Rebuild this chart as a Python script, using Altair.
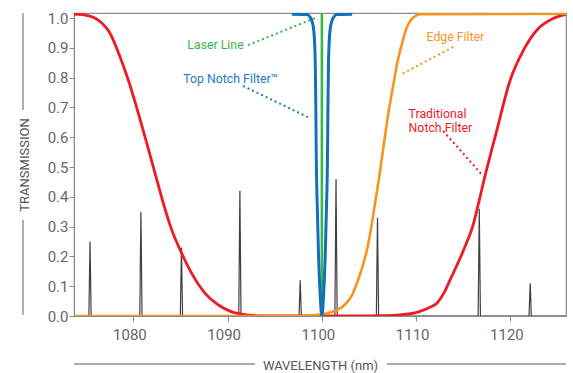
import altair as alt
import pandas as pd

# ---------------- data ----------------
# Traditional notch filter (red)
red_x = [1073.7, 1074.87, 1076.28, 1077.52, 1078.58, 1079.46, 1080.53, 1081.42, 1082.30,
         1083.18, 1084.07, 1085.13, 1086.19, 1087.61, 1089.02, 1090.44, 1092.2, 1093.98,
         1099.0, 1104.06, 1106.0, 1108.3, 1110.25, 1111.3, 1112.2, 1113.0, 1113.6, 1115.03,
         1116.09, 1116.7, 1117.2, 1118.57, 1119.98, 1121.4, 1122.82, 1124.58, 1125.9]
red_y = [1.013, 1.010, 0.993, 0.949, 0.870, 0.792, 0.680, 0.580, 0.479,
         0.378, 0.289, 0.210, 0.143, 0.076, 0.037, 0.014, 0.003, 0.0,
         0.0, 0.0, 0.001, 0.004, 0.014, 0.027, 0.043, 0.08, 0.121, 0.221,
         0.311, 0.389, 0.456, 0.624, 0.792, 0.893, 0.960, 0.999, 1.013]

# Edge filter (orange)
edge_x = [1073.7, 1098.0, 1099.0, 1100.0, 1101.0, 1101.6, 1102.65, 1103.2, 1103.71, 1104.25,
          1104.77, 1105.3, 1105.7, 1106.0, 1106.5, 1107.0, 1107.6, 1108.0, 1108.5, 1109.0,
          1109.4, 1110.0, 1110.5, 1125.9]
edge_y = [0.0, 0.0, 0.002, 0.006, 0.013, 0.02, 0.045, 0.07, 0.11, 0.16,
          0.22, 0.31, 0.39, 0.45, 0.56, 0.67, 0.78, 0.85, 0.915, 0.967,
          0.992, 1.008, 1.013, 1.015]

# Top Notch Filter (blue)
notch_x = [1096.81, 1098.41, 1098.76, 1098.97, 1099.13, 1099.24, 1099.31, 1099.36, 1099.41,
           1099.52, 1099.66, 1099.82, 1100.0,
           1100.18, 1100.34, 1100.48, 1100.59, 1100.64, 1100.69, 1100.76, 1100.87, 1101.03,
           1101.24, 1101.59, 1103.21]
notch_y = [1.013, 1.012, 1.003, 0.987, 0.960, 0.909, 0.826, 0.691, 0.523,
           0.356, 0.188, 0.070, 0.0,
           0.070, 0.188, 0.356, 0.523, 0.691, 0.826, 0.909, 0.960, 0.987,
           1.003, 1.012, 1.013]

# Laser line (green)
laser_x = [1100.0, 1100.0]
laser_y = [0.0, 1.017]

# Spectral lines (dark grey spikes)
peak_x = [1075.4, 1080.8, 1085.1, 1091.3, 1097.7, 1101.5, 1105.9, 1116.7, 1122.1]
peak_h = [0.25, 0.35, 0.23, 0.42, 0.12, 0.46, 0.33, 0.36, 0.11]

# Annotations
label_text = ["Laser Line", "Top Notch Filter™", "Edge Filter", "Traditional\nNotch Filter"]
label_x = [1091.7, 1085.3, 1111.1, 1109.2]
label_y = [0.909, 0.797, 0.937, 0.679]
label_color = ["#39b54a", "#1a7cc1", "#f7941d", "#ed1c24"]
label_align = ["right", "left", "left", "left"]

leader_x1 = [1092.17, 1091.64, 1113.93, 1112.87]
leader_y1 = [0.909, 0.772, 0.903, 0.621]
leader_x2 = [1099.5, 1098.75, 1108.31, 1117.01]
leader_y2 = [1.003, 0.664, 0.809, 0.473]
leader_color = ["#39b54a", "#1a7cc1", "#f7941d", "#ed1c24"]

x_ticks = [1080, 1090, 1100, 1110, 1120]
y_ticks = [0.0, 0.1, 0.2, 0.3, 0.4, 0.5, 0.6, 0.7, 0.8, 0.9, 1.0]

# ---------------- build tables ----------------
spk_x, spk_y = [1073.7], [0.0]
for p, h in zip(peak_x, peak_h):
    spk_x += [p - 0.12, p, p + 0.12]
    spk_y += [0.0, h, 0.0]
spk_x.append(1125.9)
spk_y.append(0.0)

spikes = pd.DataFrame({"x": spk_x, "y": spk_y, "i": range(len(spk_x))})
red = pd.DataFrame({"x": red_x, "y": red_y})
edge = pd.DataFrame({"x": edge_x, "y": edge_y})
notch = pd.DataFrame({"x": notch_x, "y": notch_y})
laser = pd.DataFrame({"x": laser_x, "y": laser_y})
labels = pd.DataFrame({"t": label_text, "x": label_x, "y": label_y,
                       "c": label_color, "a": label_align})
leaders = pd.DataFrame({"x": leader_x1, "y": leader_y1, "x2": leader_x2,
                        "y2": leader_y2, "c": leader_color})
dummy = pd.DataFrame({"d": [0]})

FONT = "Roboto"
AX = "#8c8c8c"

xs = alt.Scale(domain=[1073.7, 1125.9], nice=False, zero=False)
ys = alt.Scale(domain=[0, 1.017], nice=False, zero=False)

x_axis = alt.Axis(values=x_ticks, format="d", title="WAVELENGTH (nm)", grid=False,
                  tickSize=5, labelPadding=6, labelFontSize=15, labelOverlap=False,
                  labelOffset=-4,
                  labelColor="#666", labelFont=FONT, domainColor=AX, tickColor=AX,
                  titleFont=FONT, titleFontSize=13, titleFontWeight="normal",
                  titleColor="#555", titleY=53, titleBaseline="alphabetic")
y_axis = alt.Axis(values=y_ticks, format=".1f", title="TRANSMISSION", grid=False,
                  tickSize=5, labelPadding=1, labelFontSize=15, labelColor="#666",
                  labelOverlap=False, labelFlush=False,
                  labelFont=FONT, domainColor=AX, tickColor=AX,
                  titleFont=FONT, titleFontSize=13, titleFontWeight="normal",
                  titleColor="#555", titleX=-46, titleY=151.5, titleAngle=270,
                  titleAlign="center", titleBaseline="alphabetic")

X = alt.X("x:Q", scale=xs, axis=x_axis)
Y = alt.Y("y:Q", scale=ys, axis=y_axis)


def curve(df, color, width, interp="monotone"):
    return alt.Chart(df).mark_line(color=color, strokeWidth=width, interpolate=interp,
                                   clip=True).encode(x=X, y=Y)


spike_layer = alt.Chart(spikes).mark_line(color="#404040", strokeWidth=1.2,
                                          interpolate="linear", clip=True).encode(
    x=X, y=Y, order="i:Q",
)
red_layer = curve(red, "#ed1c24", 2.8)
edge_layer = curve(edge, "#f7941d", 2.6)
laser_layer = curve(laser, "#39b54a", 2.6, interp="linear")
notch_layer = curve(notch, "#0f72b9", 3.0)

leader_layer = alt.Chart(leaders).mark_rule(strokeWidth=2, strokeDash=[2, 3]).encode(
    x=X, y=Y, x2="x2:Q", y2="y2:Q",
    color=alt.Color("c:N", scale=None),
)


def text_layer(align):
    return alt.Chart(labels).transform_filter(
        alt.datum.a == align
    ).mark_text(font=FONT, fontSize=12.3, baseline="middle", align=align,
                lineBreak="\n", lineHeight=14.5).encode(
        x=X, y=Y, text="t:N",
        color=alt.Color("c:N", scale=None),
    )


# decorative lines beside axis titles
deco = [
    alt.Chart(dummy).mark_rule(color=AX, strokeWidth=1.4, clip=False).encode(
        x=alt.value(-51), y=alt.value(0), y2=alt.value(97)),
    alt.Chart(dummy).mark_rule(color=AX, strokeWidth=1.4, clip=False).encode(
        x=alt.value(-51), y=alt.value(207), y2=alt.value(302)),
    alt.Chart(dummy).mark_rule(color=AX, strokeWidth=1.4, clip=False).encode(
        y=alt.value(351), x=alt.value(0), x2=alt.value(181)),
    alt.Chart(dummy).mark_rule(color=AX, strokeWidth=1.4, clip=False).encode(
        y=alt.value(351), x=alt.value(313), x2=alt.value(492)),
]

chart = alt.layer(
    spike_layer, red_layer, edge_layer, laser_layer, notch_layer,
    leader_layer, text_layer("right"), text_layer("left"), *deco,
).properties(
    width=492, height=303,
    autosize=alt.AutoSizeParams(type="none"),
    padding={"left": 74, "top": 13, "right": 7, "bottom": 57},
    background="white",
).configure_view(stroke=AX, strokeWidth=1.2)

chart.save("out.html", embed_options={"renderer": "svg", "actions": False})
